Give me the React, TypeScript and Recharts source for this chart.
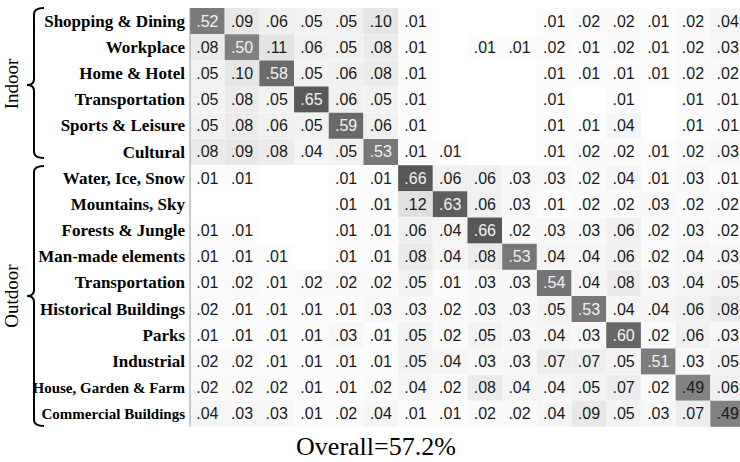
import { BarChart, Bar, XAxis, YAxis, Cell, LabelList } from 'recharts'

// scene categories, top to bottom (rows = true class, cols = predicted)
const rowLabels = [
  'Shopping & Dining',
  'Workplace',
  'Home & Hotel',
  'Transportation',
  'Sports & Leisure',
  'Cultural',
  'Water, Ice, Snow',
  'Mountains, Sky',
  'Forests & Jungle',
  'Man-made elements',
  'Transportation',
  'Historical Buildings',
  'Parks',
  'Industrial',
  'House, Garden & Farm',
  'Commercial Buildings',
]

// labels that were squeezed in the original figure
const smallLabels = ['House, Garden & Farm', 'Commercial Buildings']

// 0 = empty cell
const confusion: number[][] = [
  [0.52, 0.09, 0.06, 0.05, 0.05, 0.10, 0.01, 0, 0, 0, 0.01, 0.02, 0.02, 0.01, 0.02, 0.04],
  [0.08, 0.50, 0.11, 0.06, 0.05, 0.08, 0.01, 0, 0.01, 0.01, 0.02, 0.01, 0.02, 0.01, 0.02, 0.03],
  [0.05, 0.10, 0.58, 0.05, 0.06, 0.08, 0.01, 0, 0, 0, 0.01, 0.01, 0.01, 0.01, 0.02, 0.02],
  [0.05, 0.08, 0.05, 0.65, 0.06, 0.05, 0.01, 0, 0, 0, 0.01, 0, 0.01, 0, 0.01, 0.01],
  [0.05, 0.08, 0.06, 0.05, 0.59, 0.06, 0.01, 0, 0, 0, 0.01, 0.01, 0.04, 0, 0.01, 0.01],
  [0.08, 0.09, 0.08, 0.04, 0.05, 0.53, 0.01, 0.01, 0, 0, 0.01, 0.02, 0.02, 0.01, 0.02, 0.03],
  [0.01, 0.01, 0, 0, 0.01, 0.01, 0.66, 0.06, 0.06, 0.03, 0.03, 0.02, 0.04, 0.01, 0.03, 0.01],
  [0, 0, 0, 0, 0.01, 0.01, 0.12, 0.63, 0.06, 0.03, 0.01, 0.02, 0.02, 0.03, 0.02, 0.02],
  [0.01, 0.01, 0, 0, 0.01, 0.01, 0.06, 0.04, 0.66, 0.02, 0.03, 0.03, 0.06, 0.02, 0.03, 0.02],
  [0.01, 0.01, 0.01, 0, 0.01, 0.01, 0.08, 0.04, 0.08, 0.53, 0.04, 0.04, 0.06, 0.02, 0.04, 0.03],
  [0.01, 0.02, 0.01, 0.02, 0.02, 0.02, 0.05, 0.01, 0.03, 0.03, 0.54, 0.04, 0.08, 0.03, 0.04, 0.05],
  [0.02, 0.01, 0.01, 0.01, 0.01, 0.03, 0.03, 0.02, 0.03, 0.03, 0.05, 0.53, 0.04, 0.04, 0.06, 0.08],
  [0.01, 0.01, 0.01, 0.01, 0.03, 0.01, 0.05, 0.02, 0.05, 0.03, 0.04, 0.03, 0.60, 0.02, 0.06, 0.03],
  [0.02, 0.02, 0.01, 0.01, 0.01, 0.01, 0.05, 0.04, 0.03, 0.03, 0.07, 0.07, 0.05, 0.51, 0.03, 0.05],
  [0.02, 0.02, 0.02, 0.01, 0.01, 0.02, 0.04, 0.02, 0.08, 0.04, 0.04, 0.05, 0.07, 0.02, 0.49, 0.06],
  [0.04, 0.03, 0.03, 0.01, 0.02, 0.04, 0.01, 0.01, 0.02, 0.02, 0.04, 0.09, 0.05, 0.03, 0.07, 0.49],
]

const overall = '57.2%'

const colIdx = confusion[0].map((_, j) => j)

// each cell is a unit-wide stacked segment, so the x scale lays out the columns
const rows = rowLabels.map((name, i) => {
  const r: Record<string, any> = { name }
  confusion[i].forEach((v, j) => {
    r['c' + j] = 1
    r['v' + j] = v
  })
  return r
})

const gray = (v: number) => {
  if (!v) return '#ffffff'
  const g = Math.round(255 * (1 - v))
  return `rgb(${g},${g},${g})`
}

const serif = '"Liberation Serif", "DejaVu Serif", serif'

const RowTick = (props: any) => {
  const { x, y, payload } = props
  const small = smallLabels.includes(payload.value)
  return (
    <text
      x={x + 3}
      y={y}
      textAnchor="end"
      dominantBaseline="central"
      fontFamily={serif}
      fontWeight="bold"
      fontSize={small ? 15 : 17}
      fill="#000"
    >
      {payload.value}
    </text>
  )
}

const CellLabel = (props: any) => {
  const { x, y, width, height, value } = props
  if (!value) return null
  return (
    <text
      x={x + width / 2}
      y={y + height / 2}
      textAnchor="middle"
      dominantBaseline="central"
      fontFamily='"Liberation Sans", Arial, sans-serif'
      fontSize={16}
      fill={value >= 0.5 ? '#f2f2f2' : '#1a1a1a'}
    >
      {value.toFixed(2).slice(1)}
    </text>
  )
}

export default function App() {
  return (
    <div style={{ position: 'absolute', left: 0, top: 0, width: 740, height: 462, overflow: 'hidden', background: '#fff' }}>
      <BarChart
        width={745}
        height={462}
        data={rows}
        layout="vertical"
        barCategoryGap={0}
        margin={{ top: 8, right: 0, bottom: 35, left: 0 }}
      >
        <XAxis type="number" domain={[0, 16]} height={0} tick={false} tickLine={false} axisLine={{ stroke: '#999' }} />
        <XAxis xAxisId="top" orientation="top" type="number" domain={[0, 16]} height={0} tick={false} tickLine={false} axisLine={{ stroke: '#999' }} />
        <YAxis
          type="category"
          dataKey="name"
          width={190}
          interval={0}
          tickLine={false}
          axisLine={{ stroke: '#999' }}
          tick={<RowTick />}
        />
        {colIdx.map((j) => (
          <Bar key={j} dataKey={'c' + j} stackId="m" isAnimationActive={false}>
            {rows.map((r, i) => (
              <Cell key={i} fill={gray(r['v' + j])} />
            ))}
            <LabelList dataKey={'v' + j} content={<CellLabel />} />
          </Bar>
        ))}
      </BarChart>

      {/* group braces + overall accuracy */}
      <svg width={740} height={462} style={{ position: 'absolute', left: 0, top: 0, pointerEvents: 'none' }}>
        <path d="M44,8 Q34,8 34,14 L34,79 Q34,85 27,85 Q34,85 34,91 L34,152 Q34,158 44,158" fill="none" stroke="#000" strokeWidth={2} />
        <path d="M44,166 Q34,166 34,172 L34,290 Q34,296 27,296 Q34,296 34,302 L34,420 Q34,426 44,426" fill="none" stroke="#000" strokeWidth={2} />
        <text transform="translate(18,84) rotate(-90)" textAnchor="middle" fontFamily={serif} fontSize={19}>Indoor</text>
        <text transform="translate(18,296) rotate(-90)" textAnchor="middle" fontFamily={serif} fontSize={19}>Outdoor</text>
        <text x={376} y={455} textAnchor="middle" fontFamily={serif} fontSize={26}>Overall={overall}</text>
      </svg>
    </div>
  )
}
